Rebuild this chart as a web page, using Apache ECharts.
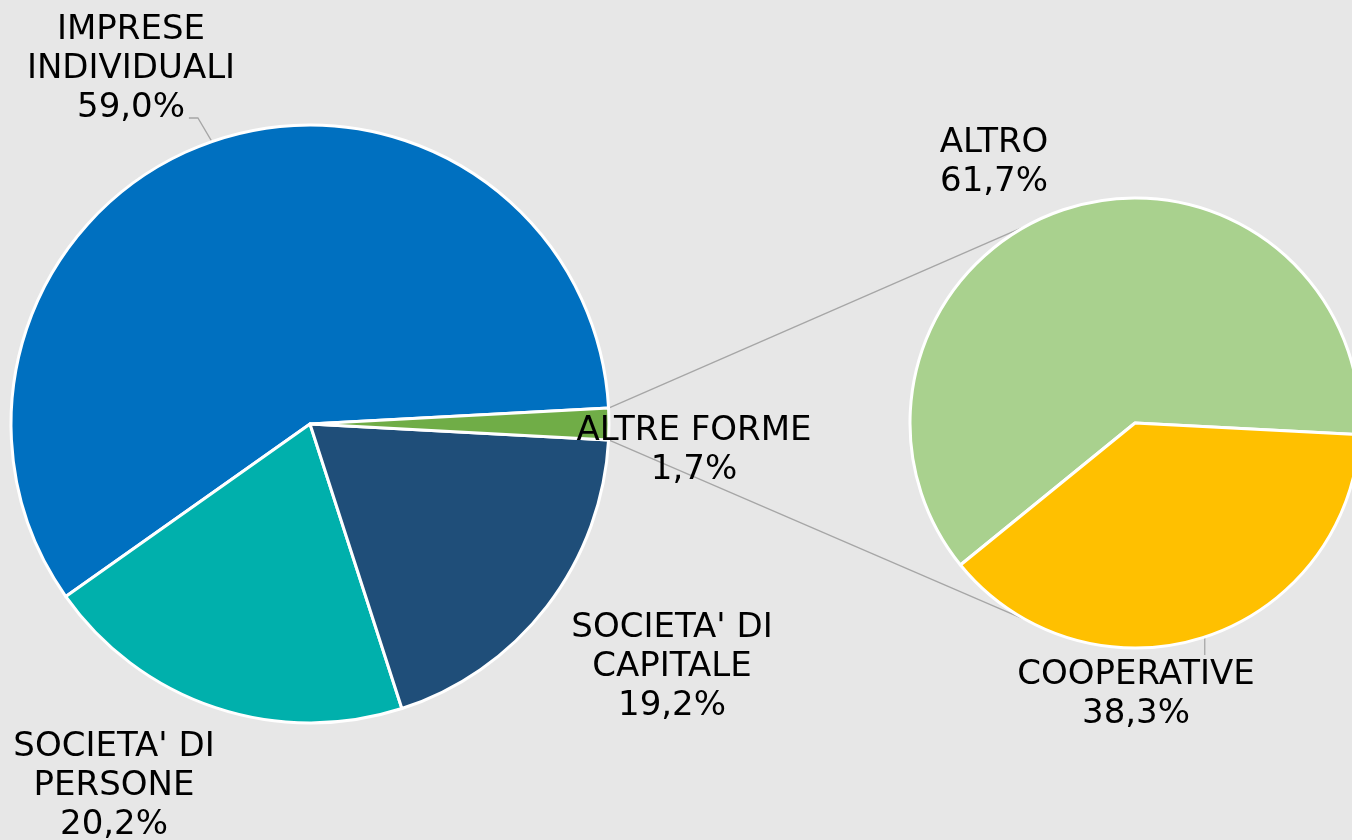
<!DOCTYPE html>
<html>
<head>
<meta charset="utf-8">
<script src="https://cdn.jsdelivr.net/npm/echarts@6/dist/echarts.min.js"></script>
<style>
  html, body { margin: 0; padding: 0; background: #e7e7e7; }
  #chart { width: 1352px; height: 840px; }
</style>
</head>
<body>
<div id="chart"></div>
<script>
// main pie
const mainNames = ['IMPRESE\nINDIVIDUALI', "SOCIETA' DI\nPERSONE", "SOCIETA' DI\nCAPITALE", 'ALTRE FORME']
const mainValues = [59.0, 20.2, 19.2, 1.7]
const mainColors = ['#0070c0', '#00b0ac', '#1f4e79', '#70ad47']

// secondary pie (breakdown of ALTRE FORME)
const subNames = ['ALTRO', 'COOPERATIVE']
const subValues = [61.7, 38.3]
const subColors = ['#a9d18e', '#ffc000']

// layout
const mainCenter = [310, 424], mainR = 299
const subCenter = [1135, 423], subR = 225
const mainLabelPos = [[131, 69], [114, 786], [672, 667], [694, 451]]
const subLabelPos = [[994, 163], [1136, 695]]

const fmt = v => v.toFixed(1).replace('.', ',') + '%'
const rad = d => d * Math.PI / 180

// other slice sits centred on the right of the main pie
const mainTotal = mainValues.reduce((a, b) => a + b, 0)
const halfOther = mainValues[3] / mainTotal * 180
const subStart = -3.0
const connAngle = 118.4

const arcPoint = (c, r, deg) => [c[0] + r * Math.cos(rad(deg)), c[1] - r * Math.sin(rad(deg))]
// mid angle of a slice (counter-clockwise from startAngle)
const midAngle = (values, start, idx) => {
  const tot = values.reduce((a, b) => a + b, 0)
  let acc = 0
  for (let i = 0; i < idx; i++) acc += values[i]
  return start + (acc + values[idx] / 2) / tot * 360
}

const p1 = arcPoint(mainCenter, mainR, halfOther)
const p2 = arcPoint(mainCenter, mainR, -halfOther)
const q1 = arcPoint(subCenter, subR, connAngle)
const q2 = arcPoint(subCenter, subR, -connAngle)

const labelStyle = {
  show: true,
  color: '#000',
  fontFamily: 'DejaVu Sans',
  fontSize: 34,
  lineHeight: 39,
  align: 'center'
}

const lineStyle = { color: '#a6a6a6', width: 1.3 }

const chart = echarts.init(document.getElementById('chart'), null, { renderer: 'canvas' })
chart.setOption({
  backgroundColor: '#e7e7e7',
  animation: false,
  graphic: [
    { type: 'line', z: 0, shape: { x1: p1[0], y1: p1[1], x2: q1[0], y2: q1[1] }, style: { stroke: '#a6a6a6', lineWidth: 1.3 } },
    { type: 'line', z: 0, shape: { x1: p2[0], y1: p2[1], x2: q2[0], y2: q2[1] }, style: { stroke: '#a6a6a6', lineWidth: 1.3 } }
  ],
  series: [
    {
      type: 'pie',
      z: 2,
      center: mainCenter,
      radius: [0, mainR],
      clockwise: false,
      startAngle: halfOther,
      avoidLabelOverlap: false,
      itemStyle: { borderColor: '#fff', borderWidth: 3 },
      label: Object.assign({}, labelStyle, {
        formatter: p => p.name + '\n' + fmt(p.value)
      }),
      labelLine: { show: true, lineStyle: lineStyle },
      labelLayout: p => {
        const pos = mainLabelPos[p.dataIndex]
        const res = { x: pos[0], y: pos[1], align: 'center', verticalAlign: 'middle' }
        if (p.dataIndex === 0) {
          const s = arcPoint(mainCenter, mainR, midAngle(mainValues, halfOther, 0))
          res.labelLinePoints = [s, [s[0] - 14, pos[1] + 49], [s[0] - 23, pos[1] + 49]]
        }
        return res
      },
      data: mainNames.map((n, i) => ({
        name: n,
        value: mainValues[i],
        itemStyle: { color: mainColors[i] },
        labelLine: { show: i === 0 }
      }))
    },
    {
      type: 'pie',
      z: 2,
      center: subCenter,
      radius: [0, subR],
      clockwise: false,
      startAngle: subStart,
      avoidLabelOverlap: false,
      itemStyle: { borderColor: '#fff', borderWidth: 3 },
      label: Object.assign({}, labelStyle, {
        formatter: p => p.name + '\n' + fmt(p.value)
      }),
      labelLine: { show: true, lineStyle: lineStyle },
      labelLayout: p => {
        const pos = subLabelPos[p.dataIndex]
        const res = { x: pos[0], y: pos[1], align: 'center', verticalAlign: 'middle' }
        if (p.dataIndex === 1) {
          const s = arcPoint(subCenter, subR, midAngle(subValues, subStart, 1))
          res.labelLinePoints = [s, [s[0], s[1] + 9], [s[0], s[1] + 18]]
        }
        return res
      },
      data: subNames.map((n, i) => ({
        name: n,
        value: subValues[i],
        itemStyle: { color: subColors[i] },
        labelLine: { show: i === 1 }
      }))
    }
  ]
})
</script>
</body>
</html>
